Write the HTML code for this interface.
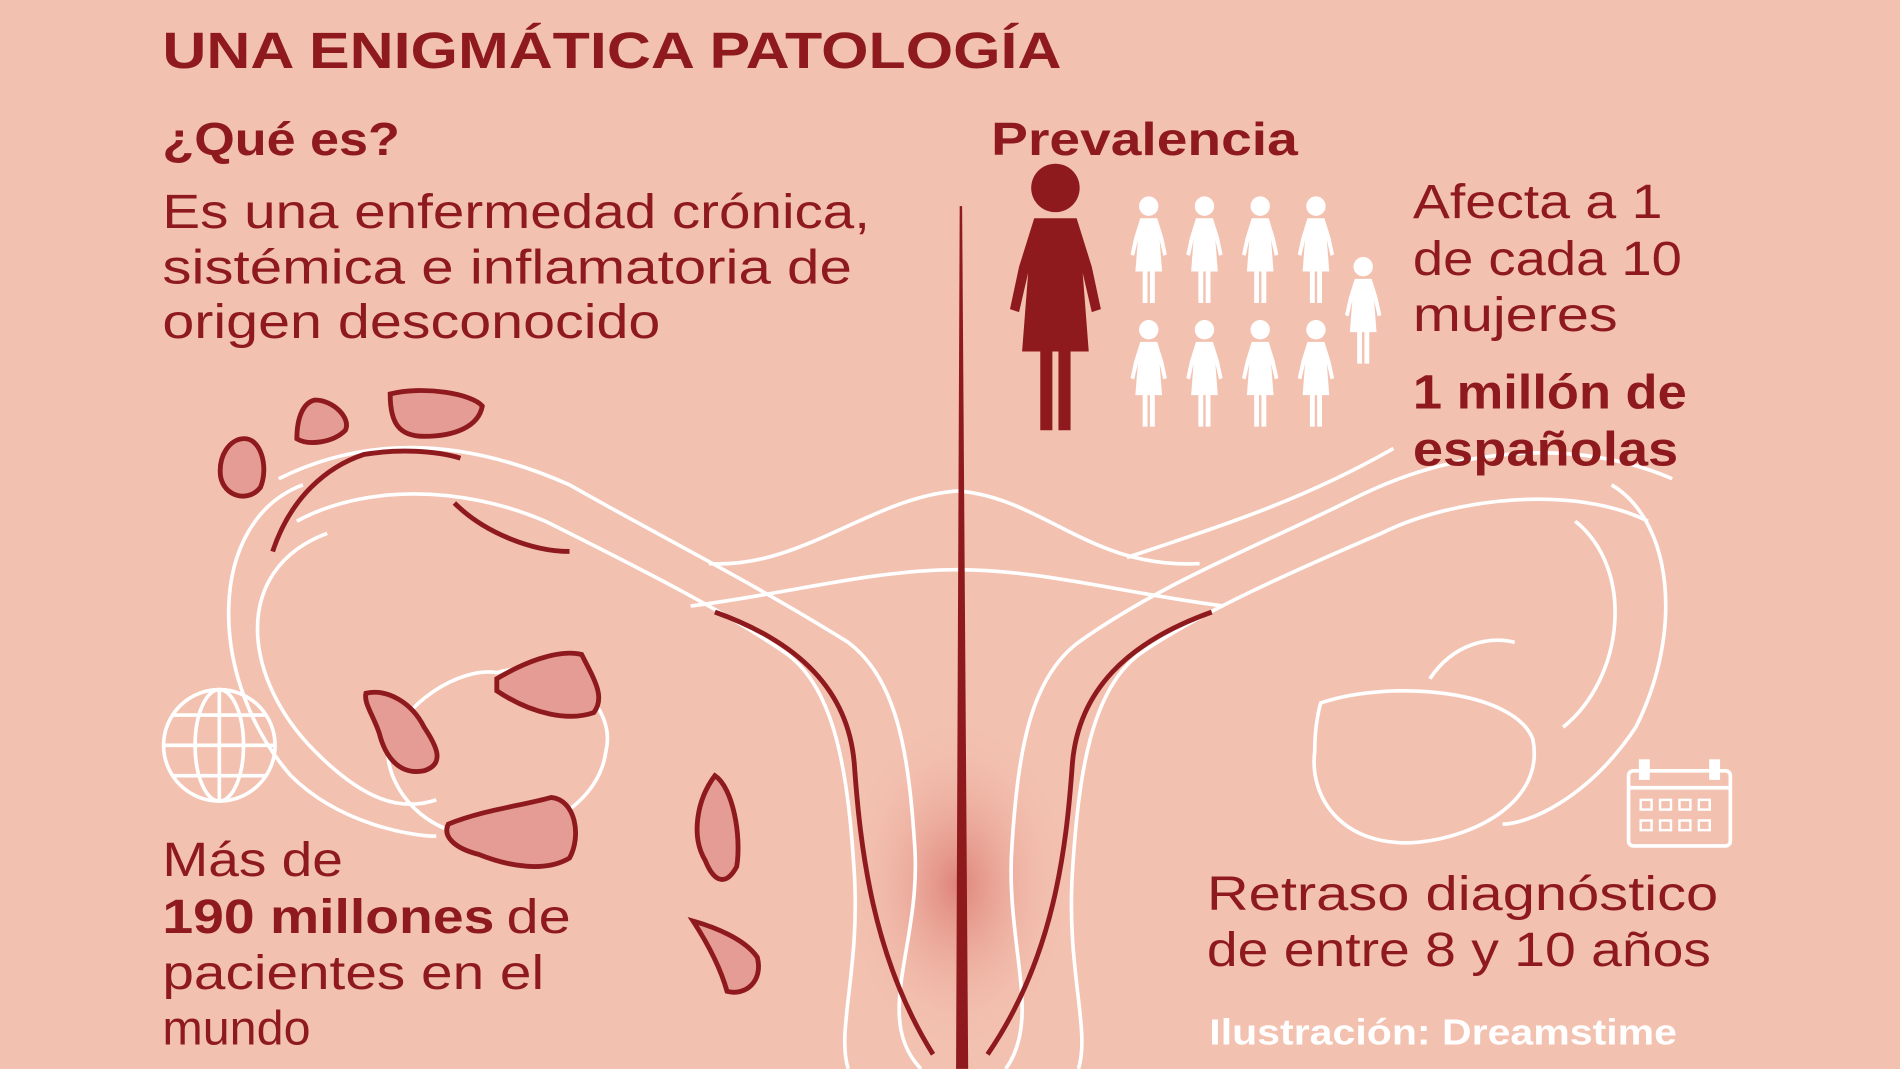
<!DOCTYPE html>
<html><head><meta charset="utf-8"><style>
html,body{margin:0;padding:0;background:#f3c1b0;}
svg{display:block}
text{font-family:"Liberation Sans",sans-serif;fill:#8e1a1e}
</style></head><body>
<svg width="1900" height="1069" viewBox="0 0 1568 882" xmlns="http://www.w3.org/2000/svg">
<defs>
<radialGradient id="g" cx="0.5" cy="0.5" r="0.5"><stop offset="0" stop-color="#d9746c" stop-opacity="0.8"/><stop offset="1" stop-color="#f3c1b0" stop-opacity="0"/></radialGradient>
<g id="w"><circle cx="0" cy="-40" r="8"/><path d="M-7,-30 L7,-30 L12,-14 L15,0 L12,1 L9,-12 L11,14 L5,14 L5,40 L1,40 L1,14 L-1,14 L-1,40 L-5,40 L-5,14 L-11,14 L-9,-12 L-12,1 L-15,0 L-12,-14 Z"/></g>
</defs>
<rect width="1568" height="882" fill="#f3c1b0"/>
<ellipse cx="790" cy="730" rx="95" ry="140" fill="url(#g)"/>
<g fill="none" stroke="#fff" stroke-width="3">
<path d="M585,465 C660,470 720,410 790,405 C860,410 900,470 990,465"/>
<path d="M570,500 C650,490 720,470 790,470 C860,470 930,490 1010,500"/>
<path d="M230,395 C300,360 380,360 470,400 C540,440 620,480 700,530 C740,560 750,620 755,700 C760,780 720,840 760,882"/>
<path d="M245,430 C300,400 380,400 450,430 C520,465 600,505 650,540 C690,570 700,640 705,720 C710,800 690,850 700,882"/>
<path d="M1380,395 C1300,360 1200,370 1120,410 C1040,450 960,480 890,530 C850,560 840,620 835,700 C830,780 860,840 830,882"/>
<path d="M1360,430 C1300,400 1200,410 1140,440 C1070,470 990,505 940,540 C900,570 890,640 885,720 C880,800 900,850 890,882"/>
<path d="M1150,370 C1080,410 1020,430 930,460"/>
<path d="M270,440 C190,470 200,560 260,620 C300,660 330,670 360,660"/>
<path d="M250,400 C170,430 170,560 240,640 C280,680 340,690 360,690"/>
<path d="M1330,400 C1380,430 1390,520 1350,600 C1310,660 1260,680 1240,680"/>
<path d="M1300,430 C1350,470 1340,560 1290,600"/>
<path d="M410,555 C460,540 510,580 500,620 C495,660 450,690 400,690 C350,690 320,650 320,620 C330,580 380,550 410,555 Z"/>
<path d="M1090,580 C1150,560 1250,570 1265,610 C1275,660 1220,690 1170,695 C1110,700 1080,660 1085,620 C1085,595 1090,580 1090,580 Z"/>
<path d="M1180,560 C1200,530 1230,525 1250,530"/>
</g>
<path d="M794,170 L799,882 L789,882 L792,170 Z" fill="#8e1a1e"/>
<g fill="none" stroke="#8e1a1e" stroke-width="4">
<path d="M590,505 C660,530 700,570 705,630 C710,700 720,790 770,870"/>
<path d="M1000,505 C930,530 890,570 885,630 C880,700 870,790 815,870"/>
<path d="M225,455 C240,410 270,385 300,375 C330,370 360,372 380,378"/>
<path d="M375,415 C400,440 440,455 470,455"/>
</g>
<g fill="#e59c95" stroke="#8e1a1e" stroke-width="4">
<path d="M200,362 C215,360 222,385 215,402 C205,415 185,410 182,393 C180,375 190,363 200,362Z"/>
<path d="M260,330 C275,330 290,345 285,355 C275,365 255,368 245,362 C245,345 250,332 260,330Z"/>
<path d="M322,325 C350,318 390,325 398,335 C395,352 375,360 350,360 C330,360 322,350 322,325Z"/>
<path d="M302,572 C320,568 340,580 350,600 C360,615 368,630 350,636 C330,640 318,625 313,605 C308,590 300,580 302,572Z"/>
<path d="M410,560 C430,548 460,535 480,540 C490,560 500,575 490,588 C470,595 440,590 410,570Z"/>
<path d="M370,680 C400,668 430,665 455,658 C475,660 480,690 470,708 C450,720 420,715 395,705 C375,700 365,690 370,680Z"/>
<path d="M590,640 C605,650 612,690 608,715 C600,730 590,730 582,710 C570,690 575,660 590,640Z"/>
<path d="M572,760 C590,765 615,775 625,790 C630,810 615,822 600,818 C595,800 585,780 572,760Z"/>
</g>
<g fill="none" stroke="#fff" stroke-width="3">
<circle cx="181" cy="615" r="46"/>
<ellipse cx="181" cy="615" rx="20" ry="46"/>
<line x1="181" y1="569" x2="181" y2="661"/>
<line x1="135" y1="615" x2="227" y2="615"/>
<path d="M142,590 H220 M142,640 H220"/>
</g>
<g fill="none" stroke="#fff" stroke-width="3">
<rect x="1344" y="636" width="84" height="62" rx="4"/>
<line x1="1344" y1="650" x2="1428" y2="650"/>
<rect x="1354" y="628" width="6" height="14" fill="#fff"/><rect x="1412" y="628" width="6" height="14" fill="#fff"/>
</g>
<g fill="none" stroke="#fff" stroke-width="2">
<rect x="1354" y="660" width="9" height="8"/><rect x="1370" y="660" width="9" height="8"/><rect x="1386" y="660" width="9" height="8"/><rect x="1402" y="660" width="9" height="8"/>
<rect x="1354" y="677" width="9" height="8"/><rect x="1370" y="677" width="9" height="8"/><rect x="1386" y="677" width="9" height="8"/><rect x="1402" y="677" width="9" height="8"/>
</g>
<g fill="#8e1a1e" transform="translate(871,255) scale(2.5)"><use href="#w"/></g>
<g fill="#fff">
<use href="#w" transform="translate(948,210)"/><use href="#w" transform="translate(994,210)"/><use href="#w" transform="translate(1040,210)"/><use href="#w" transform="translate(1086,210)"/>
<use href="#w" transform="translate(948,312)"/><use href="#w" transform="translate(994,312)"/><use href="#w" transform="translate(1040,312)"/><use href="#w" transform="translate(1086,312)"/>
<use href="#w" transform="translate(1125,260)"/>
</g>
<text x="134" y="56" font-size="42" font-weight="bold" textLength="742" lengthAdjust="spacingAndGlyphs">UNA ENIGMÁTICA PATOLOGÍA</text>
<text x="134" y="128" font-size="38" font-weight="bold" textLength="196" lengthAdjust="spacingAndGlyphs">¿Qué es?</text>
<text x="818" y="128" font-size="38" font-weight="bold" textLength="253" lengthAdjust="spacingAndGlyphs">Prevalencia</text>
<g font-size="40">
<text x="134" y="188" textLength="584" lengthAdjust="spacingAndGlyphs">Es una enfermedad crónica,</text>
<text x="134" y="234" textLength="569" lengthAdjust="spacingAndGlyphs">sistémica e inflamatoria de</text>
<text x="134" y="279" textLength="411" lengthAdjust="spacingAndGlyphs">origen desconocido</text>
<text x="1166" y="180" textLength="206" lengthAdjust="spacingAndGlyphs">Afecta a 1</text>
<text x="1166" y="227" textLength="222" lengthAdjust="spacingAndGlyphs">de cada 10</text>
<text x="1166" y="273" textLength="169" lengthAdjust="spacingAndGlyphs">mujeres</text>
<text x="1166" y="337" font-weight="bold" textLength="226" lengthAdjust="spacingAndGlyphs">1 millón de</text>
<text x="1166" y="384" font-weight="bold" textLength="219" lengthAdjust="spacingAndGlyphs">españolas</text>
<text x="134" y="723" textLength="149" lengthAdjust="spacingAndGlyphs">Más de</text>
<text x="134" y="770" font-weight="bold" textLength="274" lengthAdjust="spacingAndGlyphs">190 millones</text>
<text x="418" y="770" textLength="53" lengthAdjust="spacingAndGlyphs">de</text>
<text x="134" y="816" textLength="315" lengthAdjust="spacingAndGlyphs">pacientes en el</text>
<text x="134" y="862">mundo</text>
<text x="996" y="751" textLength="422" lengthAdjust="spacingAndGlyphs">Retraso diagnóstico</text>
<text x="996" y="797" textLength="416" lengthAdjust="spacingAndGlyphs">de entre 8 y 10 años</text>
</g>
<text x="998" y="862" font-size="30" font-weight="bold" style="fill:#fff" textLength="386" lengthAdjust="spacingAndGlyphs">Ilustración: Dreamstime</text>
</svg>
</body></html>
